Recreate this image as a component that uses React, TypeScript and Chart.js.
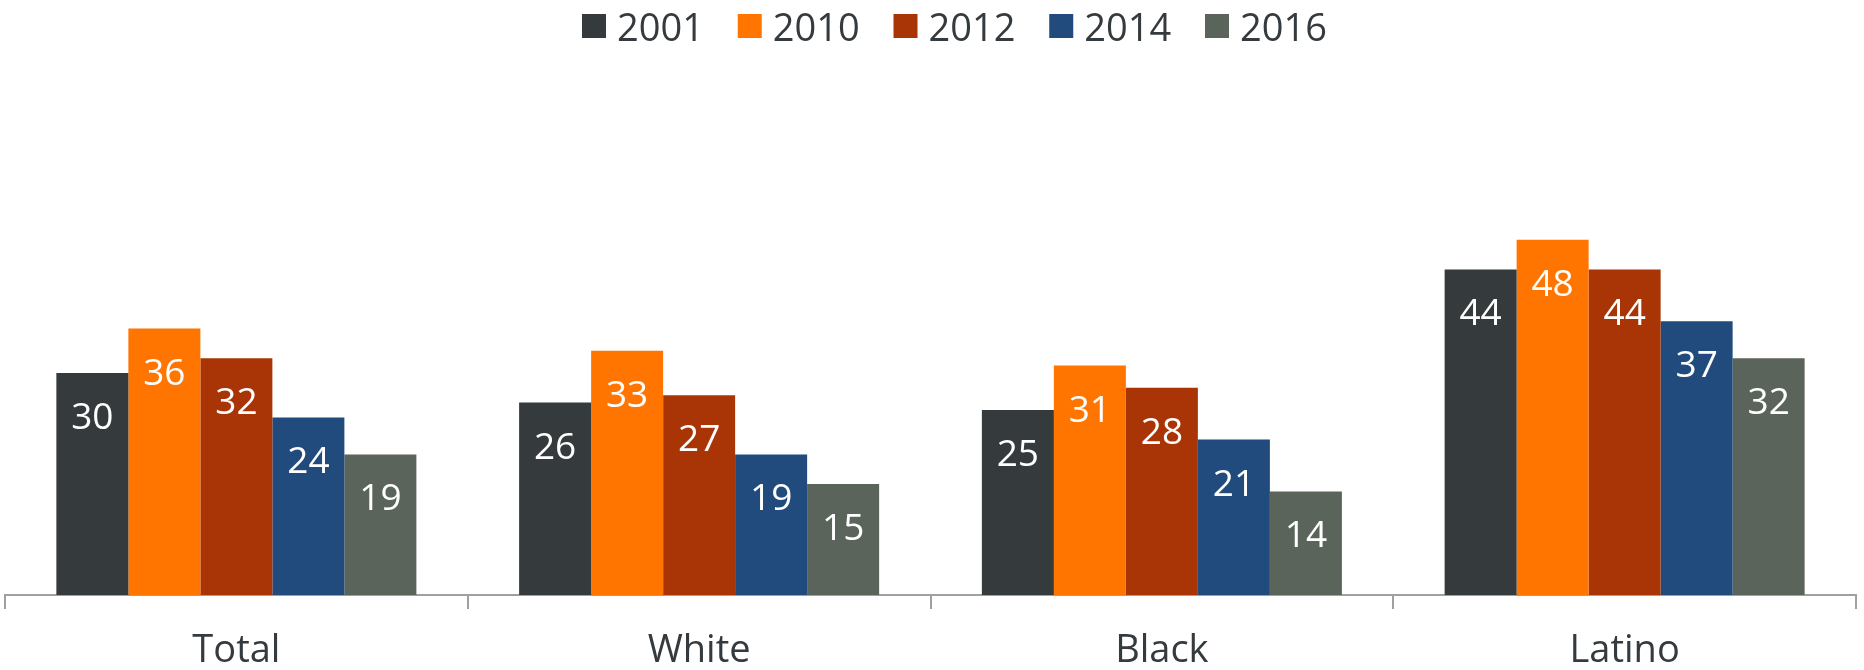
import React, { useEffect, useRef } from "react";
import { Chart, registerables } from "chart.js";

Chart.register(...registerables);

const categories = ["Total", "White", "Black", "Latino"];
const years = ["2001", "2010", "2012", "2014", "2016"];
const values2001 = [30, 26, 25, 44];
const values2010 = [36, 33, 31, 48];
const values2012 = [32, 27, 28, 44];
const values2014 = [24, 19, 21, 37];
const values2016 = [19, 15, 14, 32];
const seriesColors = ["#353A3D", "#FF7500", "#A93507", "#214A7D", "#5A645A"];

const FONT = "'Open Sans', 'Noto Sans', sans-serif";
const TEXT = "#343A3D";
const AXIS = "#A0A0A0";

const barLabels = {
  id: "barLabels",
  afterDatasetsDraw(chart: any) {
    const ctx = chart.ctx;
    ctx.save();
    ctx.font = `37px ${FONT}`;
    ctx.fillStyle = "#FFFFFF";
    ctx.textAlign = "center";
    ctx.textBaseline = "alphabetic";
    chart.data.datasets.forEach((ds: any, i: number) => {
      chart.getDatasetMeta(i).data.forEach((bar: any, j: number) => {
        ctx.fillText(String(ds.data[j]), bar.x, bar.y + 56);
      });
    });
    ctx.restore();
  },
};

const topLegend = {
  id: "topLegend",
  afterDraw(chart: any) {
    const ctx = chart.ctx;
    ctx.save();
    ctx.font = `38px ${FONT}`;
    ctx.textBaseline = "alphabetic";
    ctx.textAlign = "left";
    const step = 155.75;
    const x0 = 582;
    chart.data.datasets.forEach((ds: any, i: number) => {
      const x = x0 + i * step;
      ctx.fillStyle = ds.backgroundColor;
      ctx.fillRect(x, 14, 24, 24);
      ctx.fillStyle = TEXT;
      ctx.fillText(ds.label, x + 35, 41);
    });
    ctx.restore();
  },
};

export default function App() {
  const ref = useRef<HTMLCanvasElement | null>(null);

  useEffect(() => {
    document.body.style.margin = "0";
    const series = [values2001, values2010, values2012, values2014, values2016];
    const chart = new Chart(ref.current as HTMLCanvasElement, {
      type: "bar",
      data: {
        labels: categories,
        datasets: years.map((y, i) => ({
          label: y,
          data: series[i],
          backgroundColor: seriesColors[i],
          borderWidth: 0,
          barPercentage: 1,
          categoryPercentage: 0.778,
        })),
      },
      options: {
        animation: false,
        responsive: false,
        devicePixelRatio: 1,
        layout: { padding: { top: 151, left: 5, right: 8, bottom: -23 } },
        plugins: {
          legend: { display: false },
          tooltip: { enabled: false },
        },
        scales: {
          x: {
            grid: {
              display: true,
              drawOnChartArea: false,
              drawTicks: true,
              tickLength: 14,
              color: AXIS,
              lineWidth: 2,
              offset: true,
            },
            border: { display: true, color: AXIS, width: 2 },
            ticks: {
              font: { family: FONT, size: 38, lineHeight: 1.158 },
              color: TEXT,
              padding: 20,
            },
          },
          y: { display: false, min: 0, max: 60 },
        },
      },
      plugins: [barLabels, topLegend],
    });
    return () => chart.destroy();
  }, []);

  return (
    <div style={{ width: 1864, height: 670 }}>
      <canvas ref={ref} width={1864} height={670} style={{ display: "block" }} />
    </div>
  );
}
